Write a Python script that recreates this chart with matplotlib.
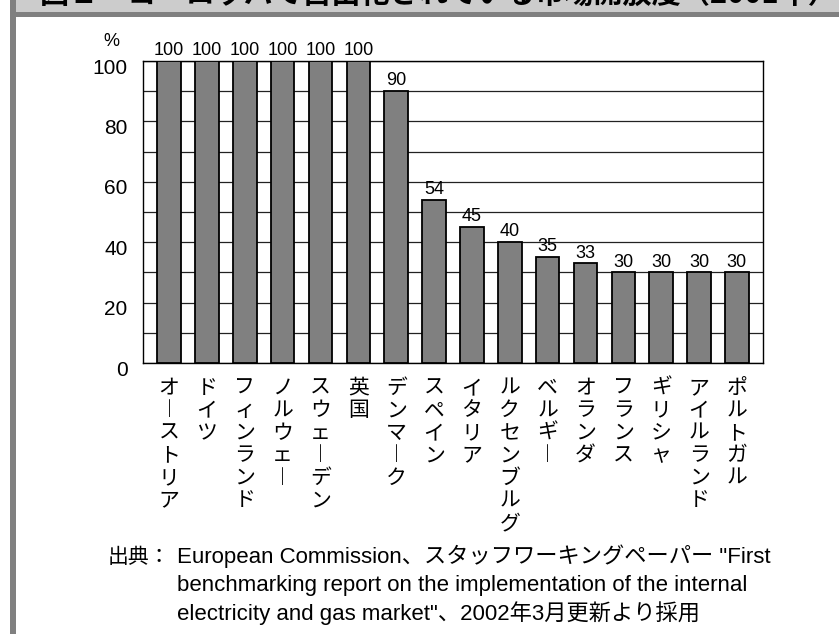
import matplotlib
matplotlib.use("Agg")
import matplotlib.pyplot as plt
import matplotlib.transforms as mtransforms
from matplotlib.patches import Rectangle
import numpy as np

plt.rcParams['font.family'] = ['Liberation Sans', 'Noto Sans CJK JP', 'DejaVu Sans']

countries = ['オーストリア', 'ドイツ', 'フィンランド', 'ノルウェー', 'スウェーデン', '英国',
             'デンマーク', 'スペイン', 'イタリア', 'ルクセンブルグ', 'ベルギー', 'オランダ',
             'フランス', 'ギリシャ', 'アイルランド', 'ポルトガル']
opening = [100, 100, 100, 100, 100, 100, 90, 54, 45, 40, 35, 33, 30, 30, 30, 30]

title = '図１　ヨーロッパで自由化されている市場開放度（2001年）'
source_lines = ['European Commission、スタッフワーキングペーパー "First',
                'benchmarking report on the implementation of the internal',
                'electricity and gas market"、2002年3月更新より採用']


def vertical(label):
    # stack characters top to bottom, long vowel mark turned upright
    return '\n'.join('︱' if c == 'ー' else c for c in label)


W, H = 839, 634
fig = plt.figure(figsize=(W / 100, H / 100), dpi=100)

# frame decoration: title band and left rule
fig.patches.append(Rectangle((16 / W, 1 - 12 / H), 1, 12 / H, transform=fig.transFigure,
                             facecolor='#cccccc', edgecolor='none', zorder=0))
fig.patches.append(Rectangle((10 / W, 1 - 17 / H), 1, 5 / H, transform=fig.transFigure,
                             facecolor='#808080', edgecolor='none', zorder=0))
fig.patches.append(Rectangle((10 / W, 0), 6 / W, 1, transform=fig.transFigure,
                             facecolor='#808080', edgecolor='none', zorder=0))
fig.text(40 / W, 1 - 9 / H, title, fontsize=21, fontweight='bold', ha='left', va='bottom',
         family=['Noto Sans CJK JP'])

ax = fig.add_axes([143 / W, 1 - 363 / H, 620 / W, 302 / H])
x = np.arange(len(countries))
bars = ax.bar(x, opening, width=0.62, color='#808080', edgecolor='black', linewidth=1.3, zorder=3)

ax.set_xlim(-0.69, len(countries) - 1 + 0.69)
ax.set_ylim(0, 100)
ax.set_yticks(np.arange(0, 101, 20))
ax.set_yticks(np.arange(0, 101, 10), minor=True)
ax.grid(axis='y', which='both', color='#222222', linewidth=0.9, zorder=1)
ax.tick_params(axis='y', which='both', length=0, pad=11, labelsize=15)
offset = mtransforms.ScaledTranslation(0, -5 / 100, fig.dpi_scale_trans)
for lab in ax.get_yticklabels():
    lab.set_transform(lab.get_transform() + offset)

ax.set_xticks(x)
ax.set_xticklabels([vertical(c) for c in countries], fontsize=15, va='top',
                   linespacing=1.03, family=['Noto Sans CJK JP'])
ax.tick_params(axis='x', length=0, pad=10)

for sp in ax.spines.values():
    sp.set_color('black')
    sp.set_linewidth(1.0)

for b, v in zip(bars, opening):
    ax.text(b.get_x() + b.get_width() / 2, v + 0.6, str(v), ha='center', va='bottom', fontsize=13)

fig.text(111 / W, 1 - 42 / H, '%', ha='center', va='center', fontsize=13)

# source note
fig.text(108 / W, 1 - 563 / H, '出典：', ha='left', va='baseline', fontsize=15,
         family=['Noto Sans CJK JP'])
for i, line in enumerate(source_lines):
    fig.text(177 / W, 1 - (563 + 28.5 * i) / H, line, ha='left', va='baseline', fontsize=16,
             family=['Liberation Sans', 'Noto Sans CJK JP'])

fig.savefig('out.png', dpi=100)
